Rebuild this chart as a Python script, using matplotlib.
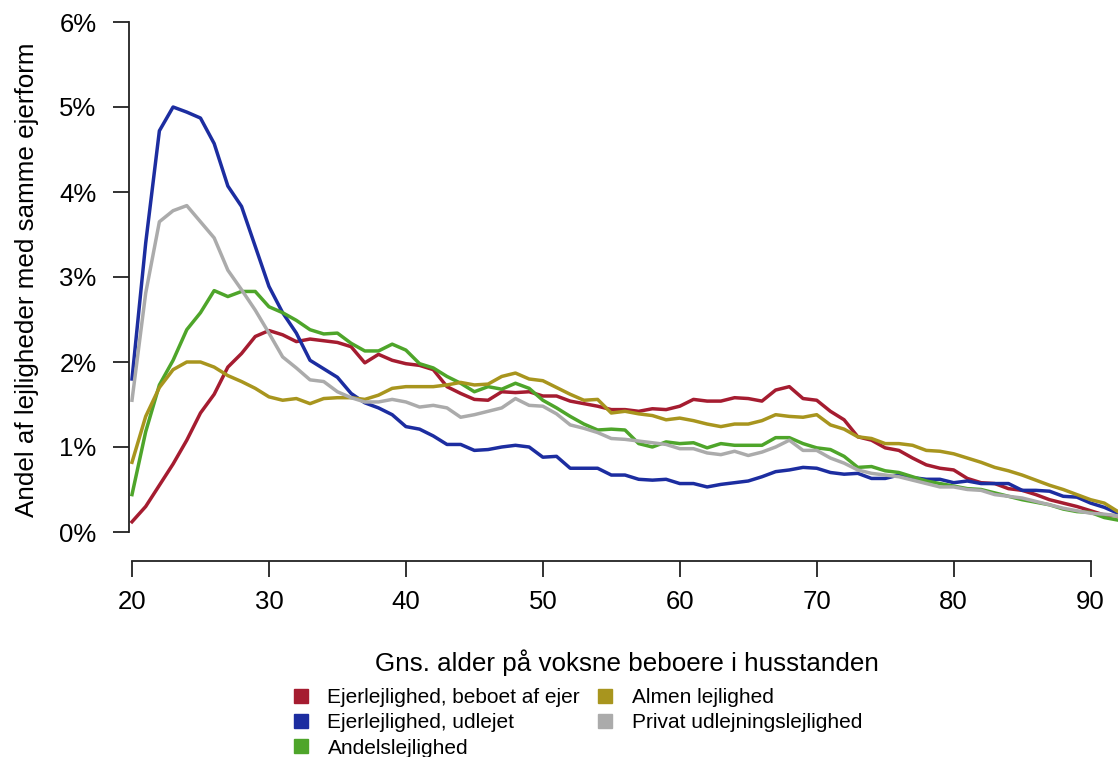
import matplotlib
matplotlib.use("Agg")
import matplotlib.pyplot as plt
from matplotlib.lines import Line2D
import numpy as np

plt.rcParams['font.family'] = ['Liberation Sans', 'DejaVu Sans']

ages = list(range(20, 93))

ejer_beboet = [0.12, 0.30, 0.55, 0.80, 1.08, 1.40, 1.62, 1.94, 2.10, 2.30, 2.37, 2.32, 2.24, 2.27, 2.25, 2.23,
               2.18, 1.99, 2.09, 2.02, 1.98, 1.96, 1.91, 1.71, 1.63, 1.56, 1.55, 1.65, 1.64, 1.65, 1.60, 1.60,
               1.54, 1.51, 1.48, 1.44, 1.44, 1.42, 1.45, 1.44, 1.48, 1.56, 1.54, 1.54, 1.58, 1.57, 1.54, 1.67,
               1.71, 1.57, 1.55, 1.42, 1.32, 1.12, 1.08, 0.99, 0.96, 0.87, 0.79, 0.75, 0.73, 0.63, 0.58, 0.57,
               0.51, 0.49, 0.44, 0.38, 0.34, 0.30, 0.25, 0.20, 0.19]
ejer_udlejet = [1.80, 3.40, 4.72, 5.00, 4.94, 4.87, 4.57, 4.07, 3.83, 3.36, 2.89, 2.58, 2.34, 2.02, 1.92, 1.82,
                1.63, 1.52, 1.46, 1.38, 1.24, 1.21, 1.13, 1.03, 1.03, 0.96, 0.97, 1.00, 1.02, 1.00, 0.88, 0.89,
                0.75, 0.75, 0.75, 0.67, 0.67, 0.62, 0.61, 0.62, 0.57, 0.57, 0.53, 0.56, 0.58, 0.60, 0.65, 0.71,
                0.73, 0.76, 0.75, 0.70, 0.68, 0.69, 0.63, 0.63, 0.67, 0.64, 0.62, 0.62, 0.58, 0.60, 0.57, 0.57,
                0.57, 0.49, 0.49, 0.48, 0.42, 0.41, 0.34, 0.29, 0.22]
andel = [0.44, 1.18, 1.73, 2.02, 2.38, 2.58, 2.84, 2.77, 2.83, 2.83, 2.65, 2.58, 2.49, 2.38, 2.33, 2.34,
         2.22, 2.13, 2.13, 2.21, 2.14, 1.98, 1.93, 1.83, 1.75, 1.65, 1.71, 1.68, 1.75, 1.69, 1.55, 1.46,
         1.36, 1.27, 1.20, 1.21, 1.20, 1.04, 1.00, 1.06, 1.04, 1.05, 0.99, 1.04, 1.02, 1.02, 1.02, 1.11,
         1.11, 1.04, 0.99, 0.97, 0.89, 0.76, 0.77, 0.72, 0.70, 0.65, 0.60, 0.57, 0.54, 0.51, 0.50, 0.46,
         0.42, 0.38, 0.35, 0.32, 0.27, 0.24, 0.23, 0.17, 0.14]
almen = [0.82, 1.36, 1.70, 1.91, 2.00, 2.00, 1.94, 1.84, 1.77, 1.69, 1.59, 1.55, 1.57, 1.51, 1.57, 1.58,
         1.58, 1.56, 1.61, 1.69, 1.71, 1.71, 1.71, 1.73, 1.76, 1.73, 1.74, 1.83, 1.87, 1.80, 1.78, 1.70,
         1.62, 1.55, 1.56, 1.40, 1.42, 1.39, 1.37, 1.32, 1.34, 1.31, 1.27, 1.24, 1.27, 1.27, 1.31, 1.38,
         1.36, 1.35, 1.38, 1.26, 1.21, 1.12, 1.10, 1.04, 1.04, 1.02, 0.96, 0.95, 0.92, 0.87, 0.82, 0.76,
         0.72, 0.67, 0.61, 0.55, 0.50, 0.44, 0.38, 0.34, 0.24]
privat = [1.55, 2.81, 3.65, 3.78, 3.84, 3.65, 3.46, 3.08, 2.85, 2.61, 2.34, 2.06, 1.93, 1.79, 1.77, 1.65,
          1.58, 1.53, 1.53, 1.56, 1.53, 1.47, 1.49, 1.46, 1.35, 1.38, 1.42, 1.46, 1.57, 1.49, 1.48, 1.39,
          1.26, 1.22, 1.17, 1.10, 1.09, 1.07, 1.05, 1.03, 0.98, 0.98, 0.93, 0.91, 0.95, 0.90, 0.94, 1.00,
          1.08, 0.96, 0.96, 0.87, 0.81, 0.73, 0.69, 0.67, 0.65, 0.61, 0.57, 0.53, 0.53, 0.50, 0.49, 0.44,
          0.42, 0.40, 0.36, 0.32, 0.28, 0.25, 0.22, 0.21, 0.19]

labels = ["Ejerlejlighed, beboet af ejer", "Ejerlejlighed, udlejet", "Andelslejlighed",
          "Almen lejlighed", "Privat udlejningslejlighed"]
colors = ["#A51C30", "#1C2DA0", "#4EA52A", "#A8951E", "#ABABAB"]
series = [ejer_beboet, ejer_udlejet, andel, almen, privat]

x_ticks = [20, 30, 40, 50, 60, 70, 80, 90]
y_ticks = [0, 1, 2, 3, 4, 5, 6]

W, H = 1118, 757
fig = plt.figure(figsize=(W / 100, H / 100), dpi=100)
ax = fig.add_axes([132 / W, 1 - 532 / H, (1118 - 132) / W, (532 - 22) / H])

for s, c in zip(series, colors):
    ax.plot(ages, s, color=c, lw=2.5, solid_joinstyle='round', clip_on=False)

ax.set_xlim(20, 92)
ax.set_ylim(0, 6)
for sp in ['top', 'right']:
    ax.spines[sp].set_visible(False)
ax.spines['left'].set_position(('outward', 2))
ax.spines['bottom'].set_position(('outward', 21))
ax.spines['left'].set_bounds(0, 6)
ax.spines['bottom'].set_bounds(20, 90)
for sp in ['left', 'bottom']:
    ax.spines[sp].set_linewidth(1.3)
    ax.spines[sp].set_color('#222222')

ax.set_xticks(x_ticks)
ax.set_xticklabels([str(v) for v in x_ticks])
ax.set_yticks(y_ticks)
ax.set_yticklabels([f"{v}%" for v in y_ticks])
ax.tick_params(axis='y', length=11.5, width=1.3, pad=12, labelsize=18.5, color='#222222')
ax.tick_params(axis='x', length=11.5, width=1.3, pad=9, labelsize=18.5, color='#222222')

fig.text(27 / W, 1 - 280 / H, "Andel af lejligheder med samme ejerform", rotation=90,
         ha='center', va='center', fontsize=18.7)
fig.text(627 / W, 1 - 663 / H, "Gns. alder på voksne beboere i husstanden",
         ha='center', va='center', fontsize=18.7)

handles = [Line2D([], [], ls='none', marker='s', markersize=10.5, color=c) for c in colors]
fig.legend(handles, labels, ncol=2, loc='upper left', bbox_to_anchor=(291 / W, 1 - 688 / H),
           frameon=False, fontsize=15, handlelength=1.0, handletextpad=0.75,
           columnspacing=0.72, labelspacing=0.3, borderpad=0, borderaxespad=0)

fig.savefig("out.png", dpi=100)
